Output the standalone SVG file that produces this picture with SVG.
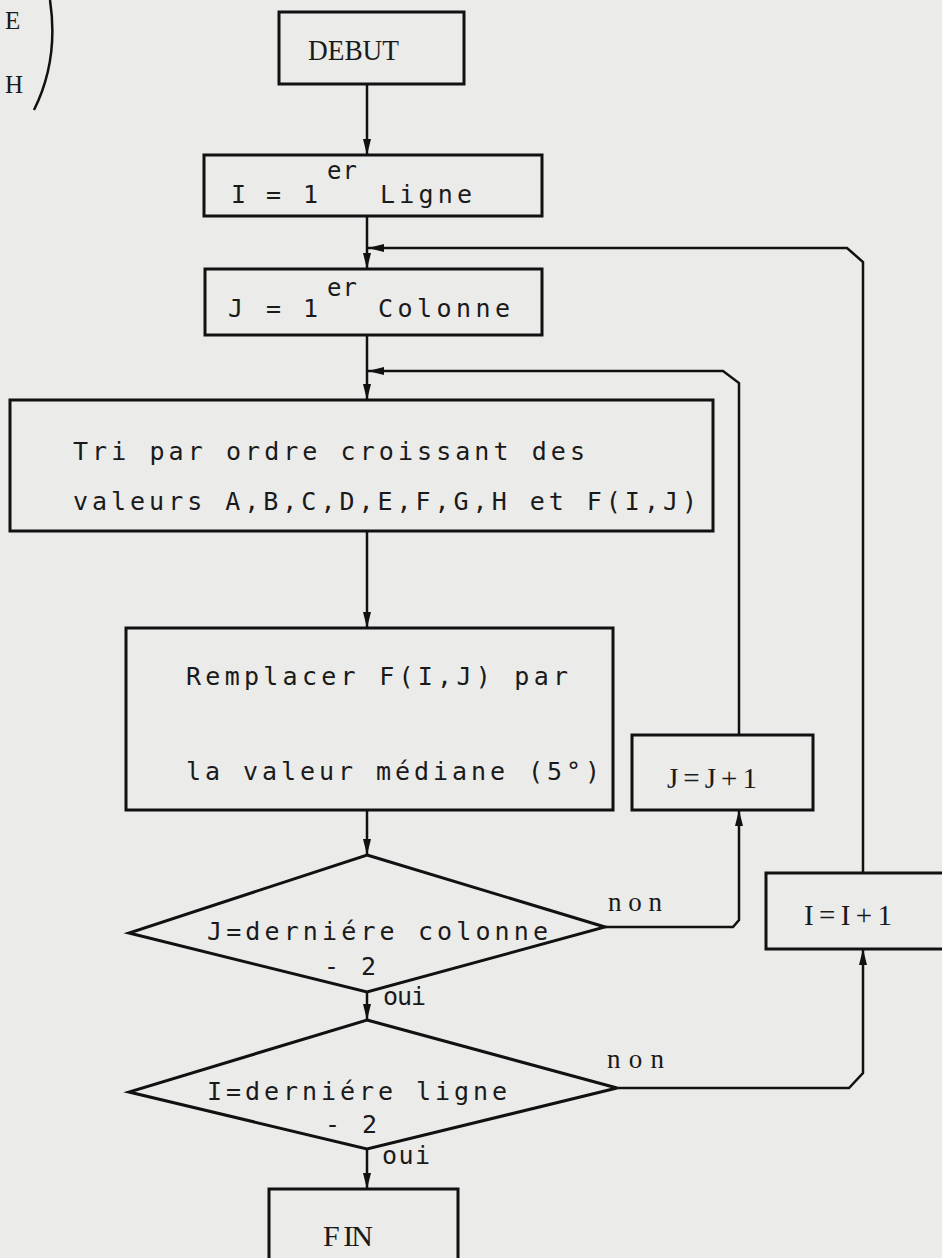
<svg xmlns="http://www.w3.org/2000/svg" width="942" height="1258" viewBox="0 0 942 1258">
<style>
.bg{fill:#ebebea}
.box{fill:none;stroke:#111;stroke-width:3}
.ln{fill:none;stroke:#111;stroke-width:2.5}
.mono{font-family:"DejaVu Sans Mono","Liberation Mono",monospace;font-size:25px;fill:#1a1a1a}
.sup{font-size:24px}
.ser{font-family:"Liberation Serif","DejaVu Serif",serif;font-size:29px;fill:#1a1a1a}
.big{font-size:30px}
.sm{font-size:25px}
.lab{font-size:27px}
</style>
<defs>
<marker id="ah" viewBox="0 0 16 8" refX="16" refY="4" markerWidth="16" markerHeight="8" markerUnits="userSpaceOnUse" orient="auto">
<path d="M0,0 L16,4 L0,8 Z" fill="#111"/>
</marker>
</defs>
<rect class="bg" x="0" y="0" width="942" height="1258"/>

<g id="bracket">
<path class="ln" d="M50,0 C56,40 50,78 34,110"/>
<text class="ser sm" x="5" y="29">E</text>
<text class="ser sm" x="5" y="93">H</text>
</g>

<g id="debut">
<rect class="box" x="279" y="12" width="185" height="72"/>
<text class="ser big" x="308" y="60" textLength="91" lengthAdjust="spacingAndGlyphs">DEBUT</text>
</g>

<g id="i-premier">
<rect class="box" x="204" y="155" width="338" height="61"/>
<text class="mono" y="203"><tspan x="231">I</tspan><tspan x="266">=</tspan><tspan x="303">1</tspan></text>
<text class="mono sup" x="327" y="179" textLength="30" lengthAdjust="spacing">er</text>
<text class="mono" x="380" y="203" textLength="92" lengthAdjust="spacing">Ligne</text>
</g>

<g id="j-premier">
<rect class="box" x="205" y="269" width="337" height="66"/>
<text class="mono" y="317"><tspan x="228">J</tspan><tspan x="266">=</tspan><tspan x="303">1</tspan></text>
<text class="mono sup" x="327" y="296" textLength="30" lengthAdjust="spacing">er</text>
<text class="mono" x="378" y="317" textLength="132" lengthAdjust="spacing">Colonne</text>
</g>

<g id="tri">
<rect class="box" x="10" y="400" width="703" height="131"/>
<text class="mono" x="73" y="460" textLength="512" lengthAdjust="spacing">Tri par ordre croissant des</text>
<text class="mono" x="73" y="510" textLength="624" lengthAdjust="spacing">valeurs A,B,C,D,E,F,G,H et F(I,J)</text>
</g>

<g id="remplacer">
<rect class="box" x="126" y="628" width="487" height="182"/>
<text class="mono" x="186" y="685" textLength="382" lengthAdjust="spacing">Remplacer F(I,J) par</text>
<text class="mono" x="186" y="780" textLength="414" lengthAdjust="spacing">la valeur médiane (5°)</text>
</g>

<g id="j-plus">
<rect class="box" x="632" y="735" width="181" height="75"/>
<text class="ser" x="667" y="788" textLength="90" lengthAdjust="spacing">J=J+1</text>
</g>

<g id="i-plus">
<rect class="box" x="766" y="873" width="190" height="76"/>
<text class="ser" x="804" y="925" textLength="88" lengthAdjust="spacing">I=I+1</text>
</g>

<g id="test-colonne">
<polygon class="box" points="367,855 605,927 367,992 129,933"/>
<text class="mono" x="207" y="940" textLength="341" lengthAdjust="spacing">J=derniére colonne</text>
<text class="mono" x="324" y="975" textLength="52" lengthAdjust="spacing">- 2</text>
</g>

<g id="test-ligne">
<polygon class="box" points="367,1020 617,1088 367,1149 129,1092"/>
<text class="mono" x="207" y="1100" textLength="300" lengthAdjust="spacing">I=derniére ligne</text>
<text class="mono" x="325" y="1133" textLength="52" lengthAdjust="spacing">- 2</text>
</g>

<g id="fin">
<rect class="box" x="269" y="1189" width="189" height="80"/>
<text class="ser big" x="323" y="1246" textLength="50" lengthAdjust="spacing">F IN</text>
</g>

<g id="connectors">
<path class="ln" d="M367,84 V155" marker-end="url(#ah)"/>
<path class="ln" d="M367,216 V269" marker-end="url(#ah)"/>
<path class="ln" d="M367,335 V400" marker-end="url(#ah)"/>
<path class="ln" d="M367,531 V628" marker-end="url(#ah)"/>
<path class="ln" d="M367,810 V855" marker-end="url(#ah)"/>
<path class="ln" d="M367,992 V1020" marker-end="url(#ah)"/>
<path class="ln" d="M367,1149 V1189" marker-end="url(#ah)"/>
<path class="ln" d="M605,927 H733 L739,920 V810" marker-end="url(#ah)"/>
<path class="ln" d="M739,735 V383 L723,371 H368" marker-end="url(#ah)"/>
<path class="ln" d="M617,1088 H849 L863,1073 V949" marker-end="url(#ah)"/>
<path class="ln" d="M863,873 V262 L847,248 H368" marker-end="url(#ah)"/>
<text class="ser lab" x="608" y="911" textLength="54" lengthAdjust="spacing">non</text>
<text class="ser lab" x="607" y="1068" textLength="57" lengthAdjust="spacing">non</text>
<text class="mono" x="383" y="1005" textLength="43" lengthAdjust="spacing">oui</text>
<text class="mono" x="382" y="1164" textLength="48" lengthAdjust="spacing">oui</text>
</g>
</svg>
